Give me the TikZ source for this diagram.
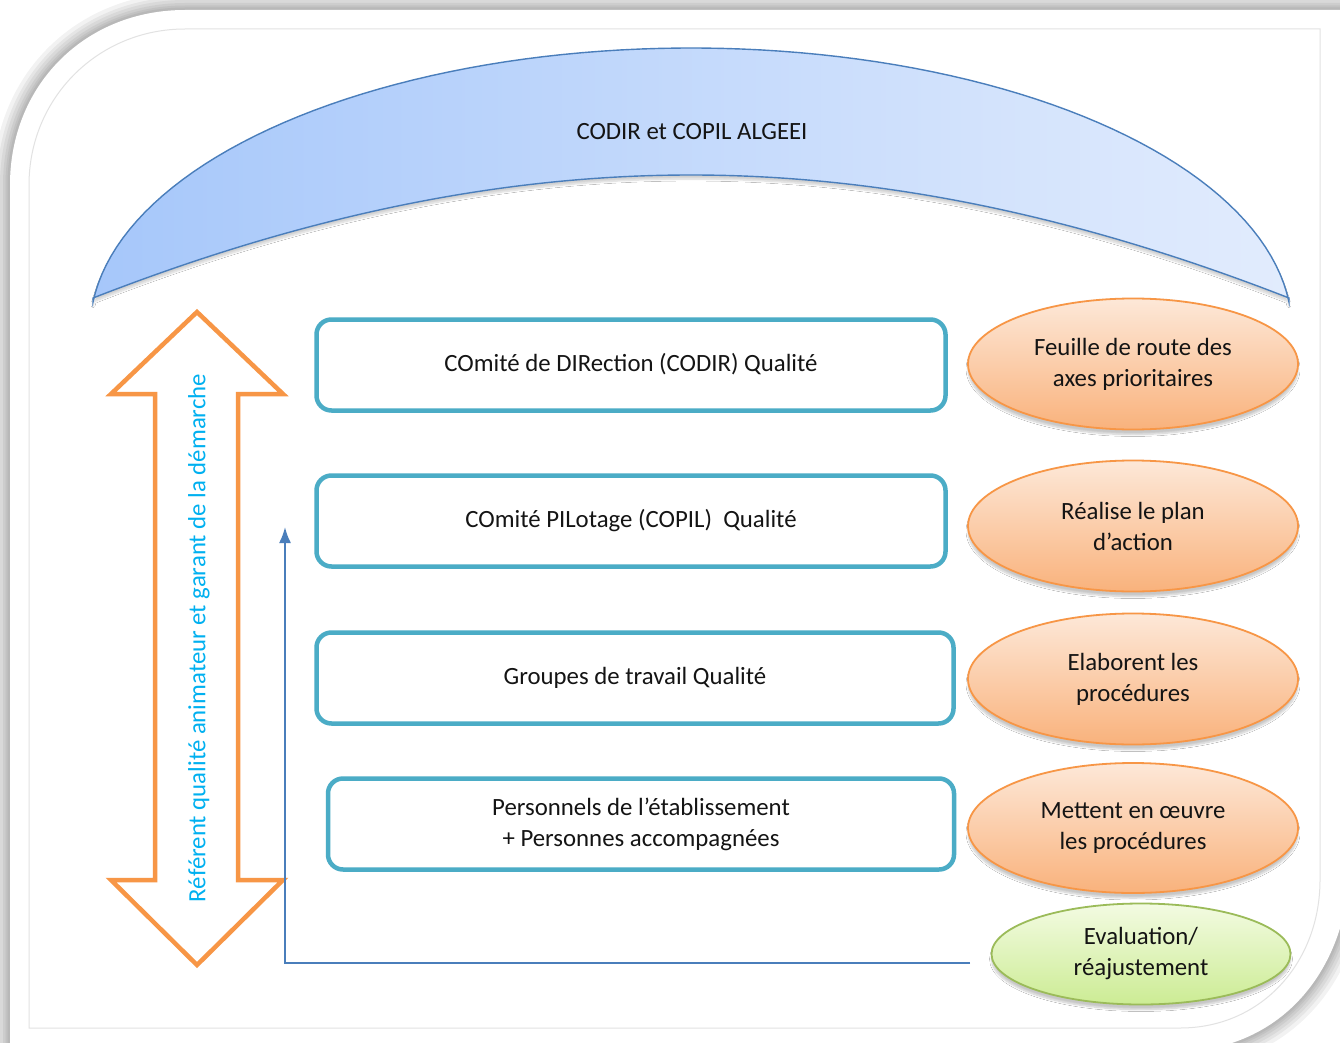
\documentclass[tikz,border=0pt]{standalone}
\usepackage{fontspec}
\setmainfont{Carlito}
\usetikzlibrary{shapes.geometric,arrows.meta,shadows.blur}
\definecolor{boxline}{RGB}{75,172,198}
\definecolor{orangeline}{RGB}{247,150,70}
\definecolor{orangetop}{RGB}{253,232,216}
\definecolor{orangebot}{RGB}{249,178,124}
\definecolor{greenline}{RGB}{155,187,89}
\definecolor{greentop}{RGB}{243,251,226}
\definecolor{greenbot}{RGB}{204,236,148}
\definecolor{arcline}{RGB}{74,126,187}
\definecolor{arcleft}{RGB}{166,199,250}
\definecolor{arcright}{RGB}{226,236,253}
\definecolor{reftext}{RGB}{0,176,240}
\definecolor{bodytext}{RGB}{20,20,20}
\definecolor{frameline}{RGB}{226,226,226}
\begin{document}
\begin{tikzpicture}[x=1pt,y=-1pt,
  every node/.style={font=\fontsize{24.8}{31}\selectfont, text=bodytext},
  levelbox/.style={draw=boxline, line width=4.5pt, rounded corners=15pt, fill=white,
    align=center, inner sep=0pt},
  actionoval/.style={ellipse, draw=orangeline, line width=1.8pt, top color=orangetop,
    bottom color=orangebot, align=center, inner sep=0pt,
    blur shadow={shadow xshift=0pt, shadow yshift=-5pt, shadow opacity=22, shadow blur steps=8}},
  evaloval/.style={ellipse, draw=greenline, line width=1.8pt, top color=greentop,
    bottom color=greenbot, align=center, inner sep=0pt,
    blur shadow={shadow xshift=0pt, shadow yshift=-5pt, shadow opacity=22, shadow blur steps=8}},
  arcband/.style={draw=arcline, line width=1.4pt, left color=arcleft, right color=arcright,
    blur shadow={shadow xshift=0pt, shadow yshift=-4pt, shadow opacity=18, shadow blur steps=8}},
  refarrow/.style={draw=orangeline, line width=4.5pt, fill=white, miter limit=20},
  feedback/.style={draw=arcline, line width=2pt, -{Latex[length=16pt,width=12pt]}},
  glow/.style={draw=black, opacity=0.05}
]
\useasboundingbox (0,0) rectangle (1340,1043);
\clip (0,0) rectangle (1340,1043);
\fill[white] (0,0) rectangle (1340,1043);

% panel with soft shadow
\foreach \w in {34,26,20,14,9,5}{
  \draw[glow, line width=\w pt] (10,1070) -- (10,185) .. controls (10,85) and (85,10) .. (185,10)
    -- (1350,10) -- (1350,860) .. controls (1350,960) and (1290,1048) .. (1180,1052) -- (10,1070);
}
\fill[white] (10,1070) -- (10,185) .. controls (10,85) and (85,10) .. (185,10)
    -- (1350,10) -- (1350,860) .. controls (1350,960) and (1290,1048) .. (1180,1052) -- (10,1070) -- cycle;
\draw[frameline, line width=1pt] (29,1028) -- (29,185) .. controls (29,98) and (98,29) .. (185,29)
    -- (1320,29) -- (1320,880) .. controls (1320,962) and (1262,1028) .. (1180,1028) -- cycle;

% top arc band
\draw[arcband] plot[domain=5.7:174.3,samples=90] ({691+601*cos(\x)},{330-282*sin(\x)})
   -- (93,298) .. controls (280,225) and (480,175) .. (691,175)
   .. controls (902,175) and (1102,225) .. (1289,298) -- cycle;
\node (arctitle) at (692,132) {CODIR et COPIL ALGEEI};

% double arrow
\draw[refarrow] (197,312) -- (283,394) -- (238,394) -- (238,880) -- (283,880) -- (197,965)
   -- (111,880) -- (155,880) -- (155,394) -- (111,394) -- cycle;
\node[rotate=90, text=reftext] (reflabel) at (199,638) {Référent qualité animateur et garant de la démarche};

% level boxes
\node[levelbox, minimum width=629pt, minimum height=91pt] (codir) at (631,365) {\strut COmité de DIRection (CODIR) Qualité};
\node[levelbox, minimum width=629pt, minimum height=91pt] (copil) at (631,521) {\strut COmité PILotage (COPIL)\ \ Qualité};
\node[levelbox, minimum width=637pt, minimum height=91pt] (groupes) at (635,678) {\strut Groupes de travail Qualité};
\node[levelbox, minimum width=626pt, minimum height=91pt] (personnels) at (641,824) {Personnels de l’établissement\\+ Personnes accompagnées};

% action ovals
\node[actionoval, minimum width=330pt, minimum height=131pt] (feuille) at (1133,364) {Feuille de route des\\axes prioritaires};
\node[actionoval, minimum width=330pt, minimum height=131pt] (realise) at (1133,526) {Réalise le plan\\d’action};
\node[actionoval, minimum width=330pt, minimum height=131pt] (elaborent) at (1133,679) {Elaborent les\\procédures};
\node[actionoval, minimum width=330pt, minimum height=130pt] (mettent) at (1133,828) {Mettent en œuvre\\les procédures};
\node[evaloval, minimum width=299pt, minimum height=101pt] (evaluation) at (1141,954) {Evaluation/\\réajustement};

% feedback connector
\coordinate (fbstart) at (970,963);
\coordinate (fbtip) at (285,527);
\draw[feedback] (fbstart) -| (fbtip);
\end{tikzpicture}
\end{document}
